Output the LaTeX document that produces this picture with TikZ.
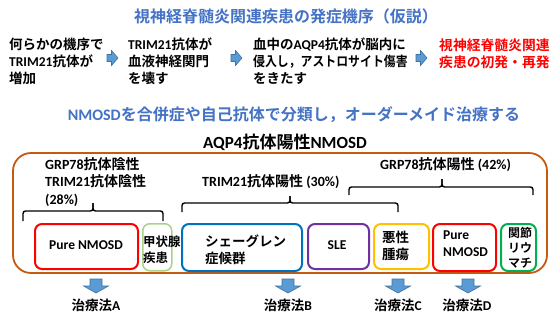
\documentclass[tikz,border=0pt]{standalone}
\usepackage{fontspec}
\usepackage{graphicx}
\setmainfont{Noto Sans CJK JP}[BoldFont={Noto Sans CJK JP Bold}]
\newfontfamily\lat{Carlito}
\newcommand\EN[1]{{\lat #1}}
\newcommand\fsz[2]{\fontsize{#1}{#2}\selectfont}
\definecolor{ttlblue}{HTML}{4472C4}
\definecolor{arrfill}{HTML}{5B9BD5}
\definecolor{arredge}{HTML}{41719C}
\definecolor{outer}{HTML}{C55A11}
\definecolor{boxred}{HTML}{FF0000}
\definecolor{boxlgreen}{HTML}{A9D18E}
\definecolor{boxblue}{HTML}{0070C0}
\definecolor{boxpurple}{HTML}{7030A0}
\definecolor{boxgold}{HTML}{FFC000}
\definecolor{boxgreen}{HTML}{00B050}
\tikzset{
  rarrow/.pic={\filldraw[fill=arrfill,draw=arredge,line width=0.6pt]
     (0,-3.5) -- (4.5,-3.5) -- (4.5,-7.5) -- (11,0) -- (4.5,7.5) -- (4.5,3.5) -- (0,3.5) -- cycle;},
  darrow/.pic={\filldraw[fill=arrfill,draw=arredge,line width=0.6pt]
     (-6,0) -- (6,0) -- (6,7) -- (12.5,7) -- (0,14) -- (-12.5,7) -- (-6,7) -- cycle;},
  rowtxt/.style={anchor=north west, align=left, font=\bfseries\fsz{13.5}{17}},
  brtxt/.style={align=left, font=\bfseries\fsz{14}{17.5}},
  boxtxt/.style={align=left, font=\bfseries\fsz{13.5}{16.5}},
  treat/.style={font=\bfseries\fsz{13.5}{16}},
  catbox/.style={draw, rounded corners=7pt, line width=2pt, anchor=north west},
  bracepath/.style={line width=1.4pt, rounded corners=2.5pt},
}
\begin{document}
\begin{tikzpicture}[x=1pt,y=-1pt, every node/.style={inner sep=0pt}]
\fill[white] (0,0) rectangle (560,322);
\useasboundingbox (0,0) rectangle (560,322);

% Title 1
\node[font=\bfseries\fsz{16}{18}, text=ttlblue] (title1) at (286,16) {視神経脊髄炎関連疾患の発症機序（仮説）};

% Row 1
\node[rowtxt] (s1) at (9,38) {何らかの機序で\\\EN{TRIM21}抗体が\\増加};
\node[rowtxt] (s2) at (128,38) {\EN{TRIM21}抗体が\\血液神経関門\\を壊す};
\node[rowtxt] (s3) at (253,38) {血中の\EN{AQP4}抗体が脳内に\\\scalebox{0.88}[1]{侵入し，アストロサイト傷害}\\をきたす};
\node[anchor=north west, align=left, font=\bfseries\fsz{13.8}{17}, text=red] (s4) at (439,38) {視神経脊髄炎関連\\疾患の初発・再発};
\pic at (107,58) {rarrow};
\pic at (231,58) {rarrow};
\pic at (416,58) {rarrow};

% Title 2
\node[font=\bfseries\fsz{16}{18}, text=ttlblue] (title2) at (294,115) {\EN{NMOSD}を合併症や自己抗体で分類し，オーダーメイド治療する};
\node[font=\bfseries\fsz{17}{19}] (title3) at (285,142) {\EN{AQP4}抗体陽性\EN{NMOSD}};

% Outer frame
\draw[outer, line width=1.8pt, rounded corners=18pt] (13,153) rectangle (547,273);

% Brace labels
\node[brtxt, anchor=north west] (l1) at (45,157) {\EN{GRP78}抗体陰性\\\EN{TRIM21}抗体陰性\\\EN{(28\%)}};
\node[brtxt, anchor=west] (l2) at (202,182) {\EN{TRIM21}抗体陽性 \EN{(30\%)}};
\node[brtxt, anchor=west] (l3) at (380,165) {\EN{GRP78}抗体陽性 \EN{(42\%)}};

% Braces
\draw[bracepath] (23,221) -- (23,211) -- (93,211) -- (93,203);
\draw[bracepath] (93,203) -- (93,211) -- (163,211) -- (163,221);
\draw[bracepath] (182,212) -- (182,203) -- (290,203) -- (290,196);
\draw[bracepath] (290,196) -- (290,203) -- (398,203) -- (398,212);
\draw[bracepath] (349,195) -- (349,187) -- (442,187) -- (442,179);
\draw[bracepath] (442,179) -- (442,187) -- (533,187) -- (533,195);

% Category boxes
\node[catbox, draw=boxred, minimum width=103pt, minimum height=45pt] (b1) at (34,223) {};
\node[catbox, draw=boxlgreen, minimum width=29pt, minimum height=47pt, line width=1.5pt] (b2) at (142,223) {};
\node[catbox, draw=boxblue, minimum width=120pt, minimum height=47pt] (b3) at (181,223) {};
\node[catbox, draw=boxpurple, minimum width=61pt, minimum height=45pt] (b4) at (307,223) {};
\node[catbox, draw=boxgold, minimum width=55pt, minimum height=45pt] (b5) at (373,223) {};
\node[catbox, draw=boxred, minimum width=63pt, minimum height=47pt] (b6) at (432,223) {};
\node[catbox, draw=boxgreen, minimum width=35pt, minimum height=47pt] (b7) at (500,223) {};

\node[boxtxt] (b1t) at (86,245) {\EN{Pure NMOSD}};
\node[boxtxt, anchor=north west, font=\bfseries\fsz{12.5}{15.5}] (b2t) at (143,236) {甲状腺\\疾患};
\node[boxtxt, anchor=north west] (b3t) at (205,235) {シェーグレン\\症候群};
\node[boxtxt] (b4t) at (337,245) {\EN{SLE}};
\node[boxtxt, anchor=north west] (b5t) at (382,231) {悪性\\腫瘍};
\node[boxtxt, anchor=north west] (b6t) at (443,231) {\EN{Pure}\\\EN{NMOSD}};
\node[boxtxt, anchor=north west, font=\bfseries\fsz{12}{15}] (b7t) at (508,227) {関節\\リウ\\マチ};

% Down arrows and treatments
\pic at (96,279) {darrow};
\pic at (288,279) {darrow};
\pic at (398,279) {darrow};
\pic at (468,279) {darrow};
\node[treat] (tA) at (96,305) {治療法\EN{A}};
\node[treat] (tB) at (288,305) {治療法\EN{B}};
\node[treat] (tC) at (398,305) {治療法\EN{C}};
\node[treat] (tD) at (467,305) {治療法\EN{D}};
\end{tikzpicture}
\end{document}
